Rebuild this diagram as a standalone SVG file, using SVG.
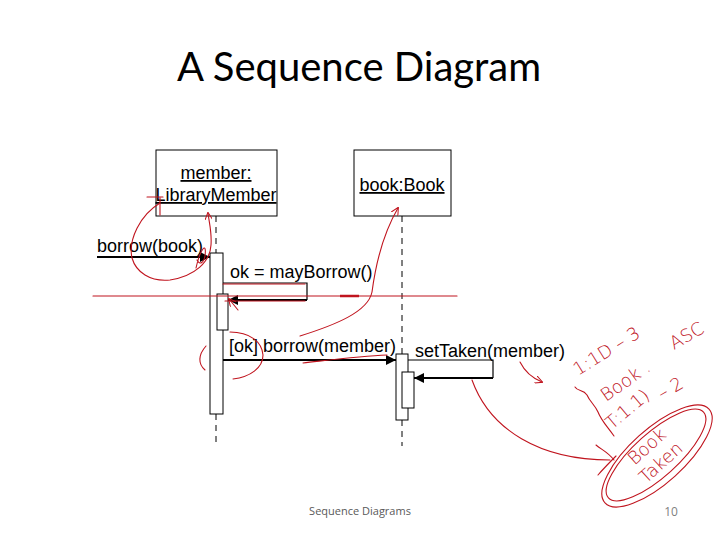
<svg xmlns="http://www.w3.org/2000/svg" width="720" height="540" viewBox="0 0 720 540">
<style>
.t{font-family:"Liberation Sans",Arial,sans-serif;font-size:18px;fill:#000}
.u{text-decoration:underline}
.box{fill:#fff;stroke:#000;stroke-width:1}
.life{stroke:#000;stroke-width:1;stroke-dasharray:6,5;fill:none}
.msg{stroke:#000;stroke-width:2;fill:none}
.self{stroke:#000;stroke-width:1.2;fill:none}
.ink{stroke:#c0141e;stroke-width:1.1;fill:none;stroke-linecap:round;stroke-linejoin:round}
.hw{font-family:"DejaVu Sans",sans-serif;font-size:18px;fill:#c0141e;font-weight:200}
</style>
<defs>
<marker id="ah" viewBox="0 0 10 10" refX="10" refY="5" markerWidth="5" markerHeight="5" orient="auto"><path d="M0,0L10,5L0,10z" fill="#000"/></marker>
<marker id="rh" viewBox="0 0 10 10" refX="9" refY="5" markerWidth="7" markerHeight="7" orient="auto"><path d="M0,0L10,5L0,10" fill="none" stroke="#c0141e" stroke-width="1.3"/></marker>
</defs>
<rect width="720" height="540" fill="#fff"/>
<text x="359" y="81" text-anchor="middle" style="font-family:Lato,'Open Sans',sans-serif;font-size:40px;fill:#000">A Sequence Diagram</text>

<g id="member">
<rect class="box" x="156" y="150" width="121" height="66"/>
<text class="t u" x="216" y="179" text-anchor="middle">member:</text>
<text class="t u" x="216" y="201" text-anchor="middle">LibraryMember</text>
</g>
<g id="book">
<rect class="box" x="354" y="150" width="97" height="66"/>
<text class="t u" x="402" y="191" text-anchor="middle">book:Book</text>
</g>

<g id="lifelines">
<line class="life" x1="216" y1="216" x2="216" y2="253"/>
<line class="life" x1="216" y1="414" x2="216" y2="446"/>
<line class="life" x1="402" y1="216" x2="402" y2="354"/>
<line class="life" x1="402" y1="420" x2="402" y2="446"/>
</g>

<g id="activations">
<rect class="box" x="210" y="253" width="13" height="161"/>
<rect class="box" x="217" y="294" width="11" height="36"/>
<rect class="box" x="396" y="354" width="12" height="66"/>
<rect class="box" x="402" y="372" width="12" height="36"/>
</g>

<g id="connectors">
<line class="msg" x1="97" y1="257" x2="210" y2="257" marker-end="url(#ah)"/>
<path class="self" d="M223,283H307V300"/>
<line class="msg" x1="307" y1="300" x2="228" y2="300" marker-end="url(#ah)"/>
<line class="msg" x1="223" y1="360" x2="396" y2="360" marker-end="url(#ah)"/>
<path class="self" d="M408,360H493V378"/>
<line class="msg" x1="493" y1="378" x2="414" y2="378" marker-end="url(#ah)"/>
</g>

<g id="labels">
<text class="t" x="97" y="252">borrow(book)</text>
<text class="t" x="230" y="278">ok = mayBorrow()</text>
<text class="t" x="229" y="352">[ok] borrow(member)</text>
<text class="t" x="415" y="357">setTaken(member)</text>
</g>

<g id="annotations">
<line class="ink" x1="93" y1="296" x2="457" y2="296"/>
<line x1="340" y1="296" x2="359" y2="296" stroke="#c0141e" stroke-width="2.5"/>
<path class="ink" d="M147,197H163M160,198V215"/>
<path class="ink" d="M160,203C140,215 128,240 132,258C136,272 150,282 170,280C195,276 210,262 211,245C212,232 209,222 208,213" marker-end="url(#rh)"/>
<path class="ink" d="M196,268C200,250 207,240 205,256C204,262 200,266 197,260"/>
<path class="ink" d="M223,284H305M225,301H305"/>
<path class="ink" d="M238,310L229,299" marker-end="url(#rh)"/>
<path class="ink" d="M300,336C335,325 368,312 372,292C376,262 384,232 398,208" marker-end="url(#rh)"/>
<path class="ink" d="M206,346C198,355 198,364 205,370"/>
<path class="ink" d="M230,332C250,332 262,342 263,355C263,368 250,377 233,379"/>
<path class="ink" d="M303,363C330,360 360,356 387,355"/>
<path class="ink" d="M472,380C490,430 540,460 610,460"/>
<path class="ink" d="M520,362C525,372 532,378 542,382" marker-end="url(#rh)"/>
<path class="ink" d="M575,387C578,392 583,389 587,395C590,402 595,405 598,412C601,420 606,425 614,436"/>
<path class="ink" d="M596,445C602,450 608,452 614,460M598,475C604,468 610,462 616,456"/>
<ellipse class="ink" cx="657" cy="456" rx="70" ry="27" transform="rotate(-42 657 456)"/>
<ellipse class="ink" cx="656" cy="455" rx="64" ry="22" transform="rotate(-42 656 455)"/>
<text class="hw" transform="translate(578,376) rotate(-32)">1:1D – 3</text>
<text class="hw" transform="translate(674,350) rotate(-30)">ASC</text>
<text class="hw" transform="translate(606,402) rotate(-35)">Book .</text>
<text class="hw" transform="translate(662,400) rotate(-30)">– 2</text>
<text class="hw" transform="translate(612,430) rotate(-40)">T:1.1)</text>
<text class="hw" text-anchor="middle" transform="translate(651,451) rotate(-42)">Book</text>
<text class="hw" text-anchor="middle" transform="translate(665,467) rotate(-42)">Taken</text>
</g>

<g id="footer">
<text x="360" y="515" text-anchor="middle" style="font-family:'Open Sans','Liberation Sans',sans-serif;font-size:11px;fill:#595959">Sequence Diagrams</text>
<text x="671" y="516" text-anchor="middle" style="font-family:'Open Sans','Liberation Sans',sans-serif;font-size:12px;fill:#7f7f7f">10</text>
</g>
</svg>
